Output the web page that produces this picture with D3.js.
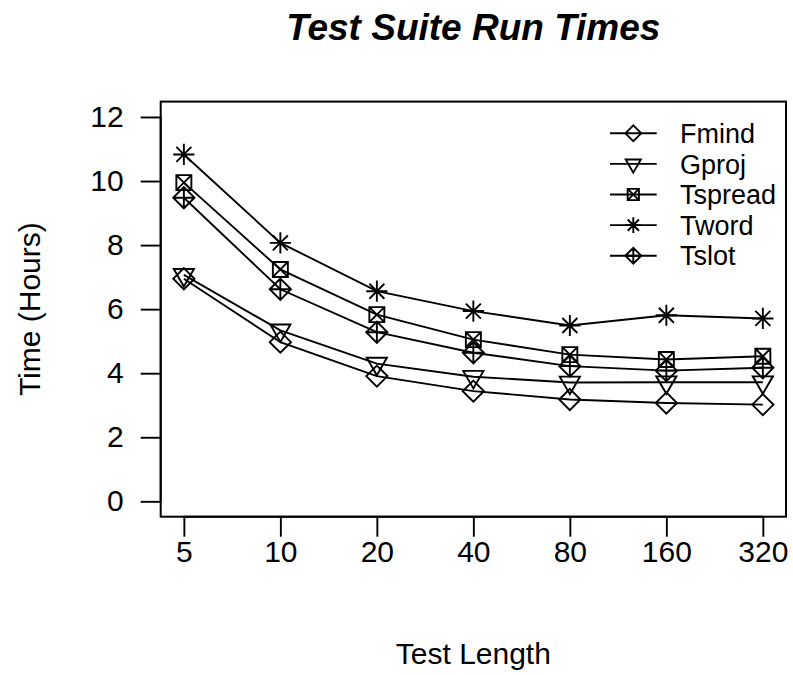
<!DOCTYPE html>
<html>
<head>
<meta charset="utf-8">
<script src="https://cdn.jsdelivr.net/npm/d3@7/dist/d3.min.js"></script>
<style>
  html, body { margin: 0; padding: 0; background: #fff; }
  svg { display: block; }
  text { font-family: "Liberation Sans", Arial, Helvetica, sans-serif; fill: #000; }
</style>
</head>
<body>
<svg id="chart" width="793" height="675"></svg>
<script>
// Test lengths (categorical x axis)
const testLengths = ["5", "10", "20", "40", "80", "160", "320"];

// Run times in hours for each tool
const fmind   = [6.95, 4.97, 3.91, 3.44, 3.18, 3.07, 3.02];
const gproj   = [7.07, 5.34, 4.30, 3.89, 3.71, 3.72, 3.72];
const tspread = [9.95, 7.24, 5.83, 5.05, 4.58, 4.43, 4.53];
const tword   = [10.83, 8.07, 6.56, 5.94, 5.49, 5.81, 5.71];
const tslot   = [9.48, 6.62, 5.28, 4.64, 4.22, 4.08, 4.17];

const yTicks = [0, 2, 4, 6, 8, 10, 12];

const seriesNames = ["Fmind", "Gproj", "Tspread", "Tword", "Tslot"];
const seriesValues = [fmind, gproj, tspread, tword, tslot];
const seriesSymbols = ["diamond", "triangleDown", "squareX", "asterisk", "diamondPlus"];

const svg = d3.select("#chart");

// Plot region
const plotLeft = 160.7, plotRight = 786, plotTop = 101.6, plotBottom = 516.7;

// Index scale with 4% padding on both ends
const nX = testLengths.length;
const padX = (nX - 1) * 0.04;
const x = d3.scaleLinear().domain([1 - padX, nX + padX]).range([plotLeft, plotRight]);
const y = d3.scaleLinear().domain([-0.48, 12.48]).range([plotBottom, plotTop]);

const R = 7.5; // base symbol radius
const axisFont = 30;

function symbolPath(type, cx, cy, s) {
  const r = R * s;
  const p = d3.path();
  if (type === "diamond" || type === "diamondPlus") {
    const d = r * Math.SQRT2;
    p.moveTo(cx - d, cy); p.lineTo(cx, cy - d); p.lineTo(cx + d, cy); p.lineTo(cx, cy + d); p.closePath();
    if (type === "diamondPlus") {
      p.moveTo(cx - d, cy); p.lineTo(cx + d, cy);
      p.moveTo(cx, cy - d); p.lineTo(cx, cy + d);
    }
  } else if (type === "triangleDown") {
    const tr0 = Math.sqrt(4 * Math.PI / (3 * Math.sqrt(3)));
    const rr = tr0 * r, xc = tr0 * Math.sqrt(3) / 2 * r, yc = tr0 / 2 * r;
    p.moveTo(cx, cy + rr); p.lineTo(cx + xc, cy - yc); p.lineTo(cx - xc, cy - yc); p.closePath();
  } else if (type === "squareX") {
    p.rect(cx - r, cy - r, 2 * r, 2 * r);
    p.moveTo(cx - r, cy - r); p.lineTo(cx + r, cy + r);
    p.moveTo(cx - r, cy + r); p.lineTo(cx + r, cy - r);
  } else if (type === "asterisk") {
    const d = r * Math.SQRT2;
    p.moveTo(cx - d, cy); p.lineTo(cx + d, cy);
    p.moveTo(cx, cy - d); p.lineTo(cx, cy + d);
    p.moveTo(cx - r, cy - r); p.lineTo(cx + r, cy + r);
    p.moveTo(cx - r, cy + r); p.lineTo(cx + r, cy - r);
  }
  return p.toString();
}

// Series lines and markers
const line = d3.line().x((d, i) => x(i + 1)).y(d => y(d));
seriesValues.forEach((vals, k) => {
  svg.append("path")
    .attr("d", line(vals))
    .attr("fill", "none")
    .attr("stroke", "#000")
    .attr("stroke-width", 1.9);
  svg.append("g").selectAll("path")
    .data(vals)
    .join("path")
    .attr("d", (d, i) => symbolPath(seriesSymbols[k], x(i + 1), y(d), 1))
    .attr("fill", "none")
    .attr("stroke", "#000")
    .attr("stroke-width", 1.9);
});

// Frame
svg.append("rect")
  .attr("x", plotLeft).attr("y", plotTop)
  .attr("width", plotRight - plotLeft).attr("height", plotBottom - plotTop)
  .attr("fill", "none").attr("stroke", "#000").attr("stroke-width", 2);

// Y axis
const yAxis = d3.axisLeft(y).tickValues(yTicks).tickSize(20).tickPadding(17);
const gy = svg.append("g").attr("transform", `translate(${plotLeft},0)`).call(yAxis);
gy.select(".domain").attr("d", `M0,${y(0)}V${y(12)}`).attr("stroke-width", 1.9);
gy.selectAll(".tick line").attr("stroke-width", 1.9);
gy.selectAll("text").attr("font-size", axisFont).attr("font-family", "Liberation Sans, Arial, sans-serif");

// X axis
const xAxis = d3.axisBottom(x).tickValues(d3.range(1, nX + 1))
  .tickFormat(i => testLengths[i - 1]).tickSize(20).tickPadding(4);
const gx = svg.append("g").attr("transform", `translate(0,${plotBottom})`).call(xAxis);
gx.select(".domain").attr("d", `M${x(1)},0H${x(nX)}`).attr("stroke-width", 1.9);
gx.selectAll(".tick line").attr("stroke-width", 1.9);
gx.selectAll("text").attr("font-size", axisFont).attr("font-family", "Liberation Sans, Arial, sans-serif");

// Title
svg.append("text")
  .attr("x", (plotLeft + plotRight) / 2).attr("y", 40)
  .attr("text-anchor", "middle")
  .attr("font-size", 37).attr("font-weight", "bold").attr("font-style", "italic")
  .text("Test Suite Run Times");

// Axis titles
svg.append("text")
  .attr("x", (plotLeft + plotRight) / 2).attr("y", 664)
  .attr("text-anchor", "middle").attr("font-size", axisFont)
  .text("Test Length");

svg.append("text")
  .attr("transform", `translate(40,${(plotTop + plotBottom) / 2}) rotate(-90)`)
  .attr("text-anchor", "middle").attr("font-size", axisFont)
  .text("Time (Hours)");

// Legend
const legend = svg.append("g");
seriesNames.forEach((name, k) => {
  const ly = 133.3 + k * 30.6;
  legend.append("line")
    .attr("x1", 610).attr("x2", 656.7).attr("y1", ly).attr("y2", ly)
    .attr("stroke", "#000").attr("stroke-width", 1.9);
  legend.append("path")
    .attr("d", symbolPath(seriesSymbols[k], 633.3, ly, 0.75))
    .attr("fill", "none").attr("stroke", "#000").attr("stroke-width", 1.9);
  legend.append("text")
    .attr("x", 680).attr("y", ly).attr("dy", "0.36em")
    .attr("font-size", 27)
    .text(name);
});
</script>
</body>
</html>
